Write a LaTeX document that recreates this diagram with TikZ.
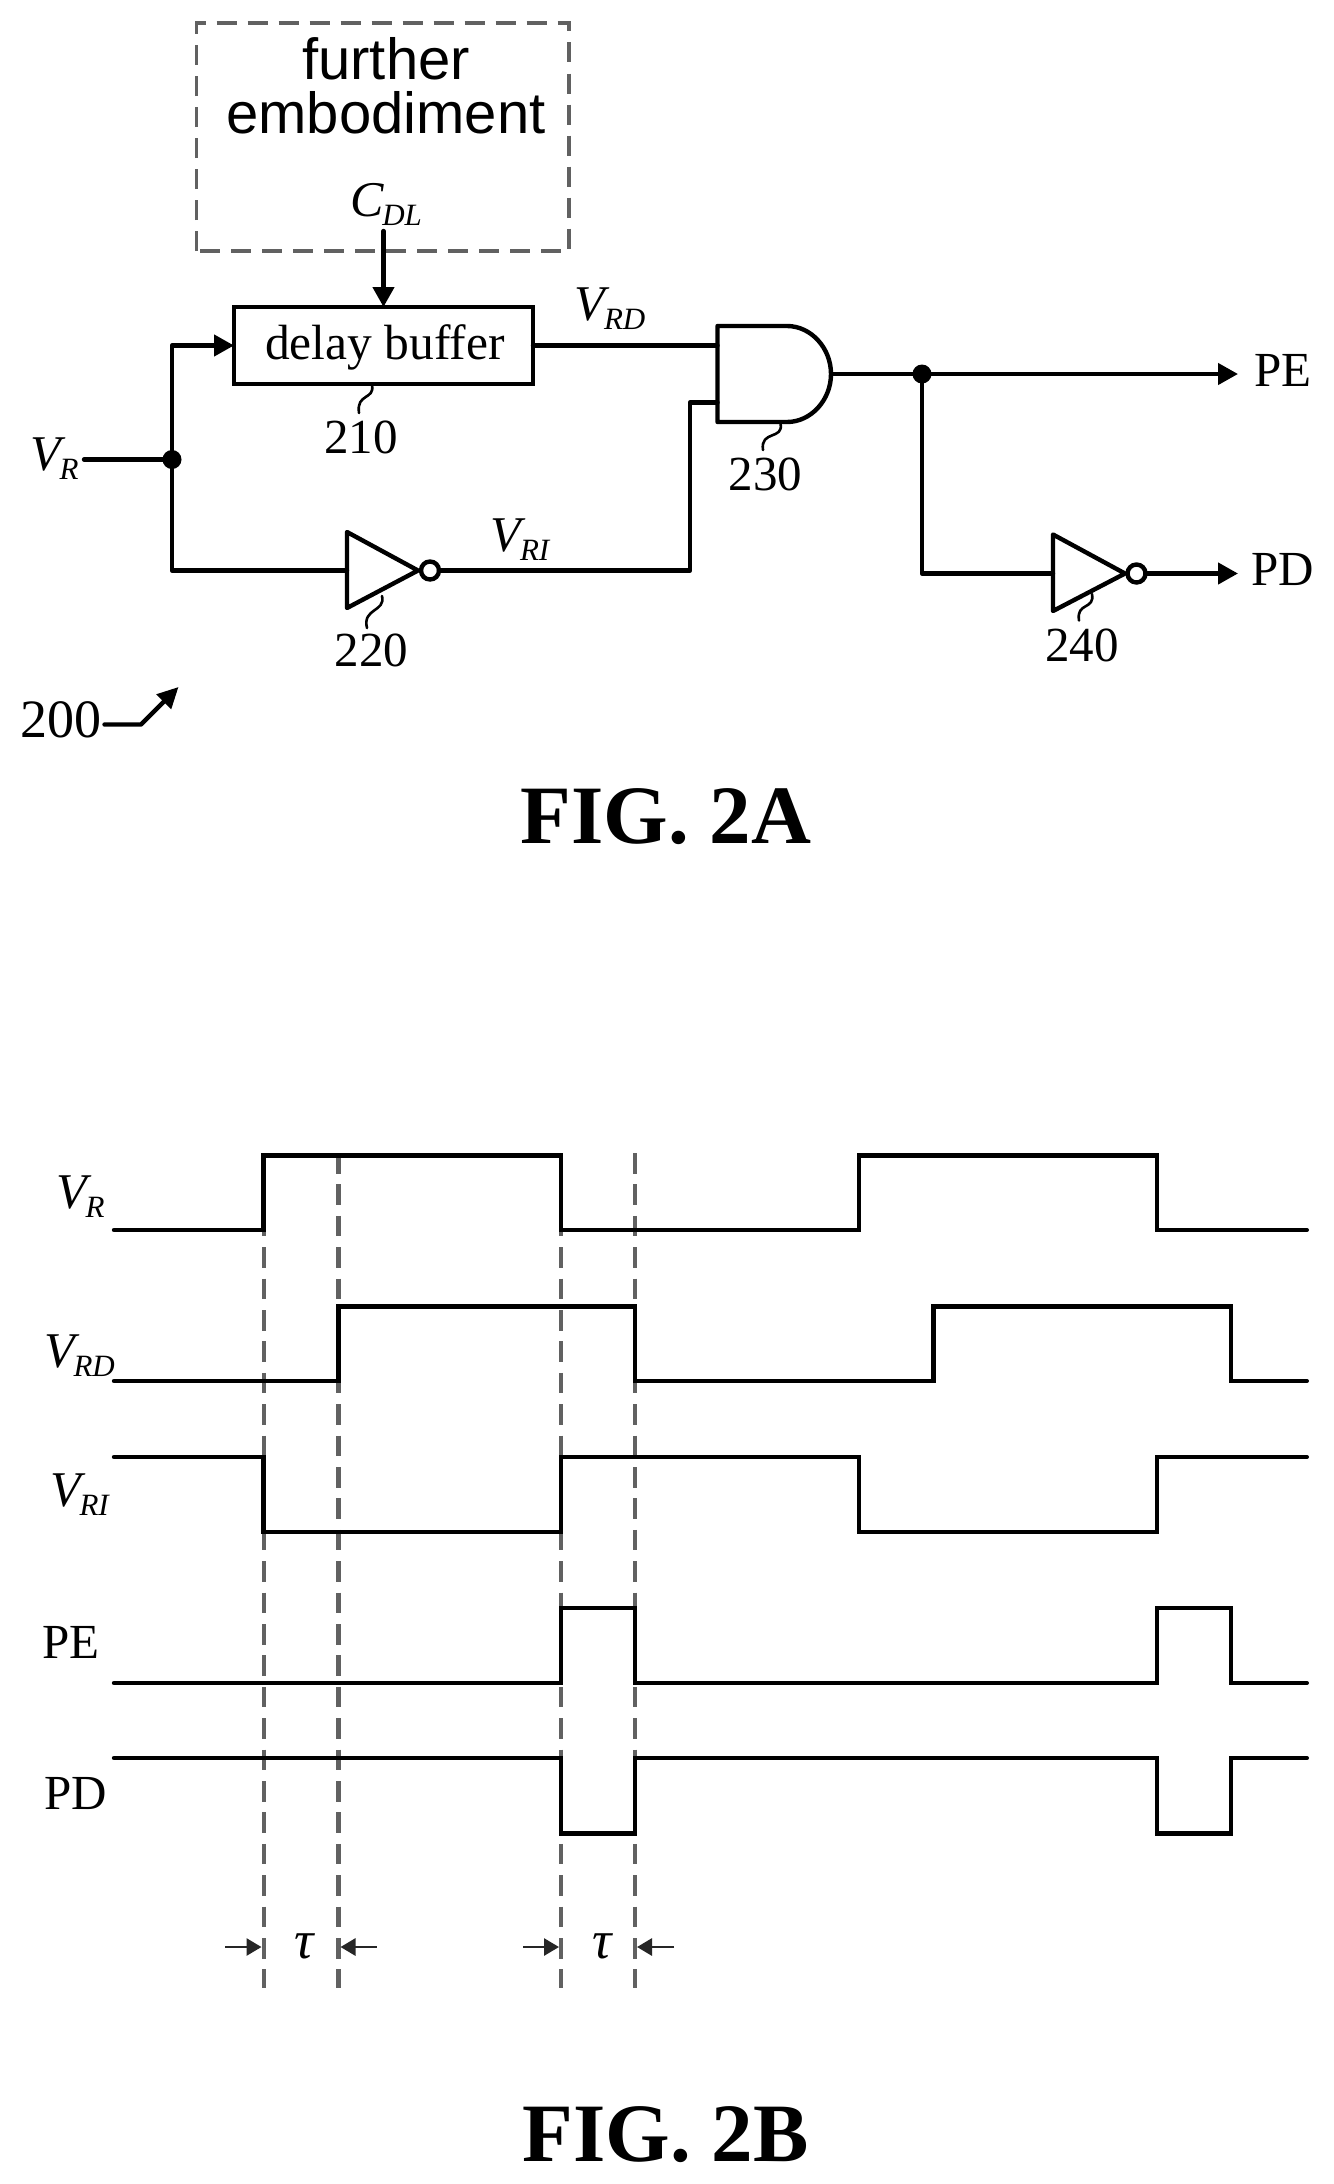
\documentclass[tikz,border=0pt]{standalone}
\usepackage{fontspec}
\setmainfont{Liberation Serif}
\newfontfamily\boxsans{Liberation Sans}
\usetikzlibrary{arrows.meta}
\newcommand\fsz[1]{\fontsize{#1}{#1}\selectfont}
\newcommand\subt[1]{\raisebox{-9pt}{\fsz{31}\textit{#1}}}
\newcommand\sig[2]{\fsz{50}{\itshape #1}\hspace{-1pt}\subt{#2}}
\tikzset{
  wire/.style={line width=4.4pt,line cap=round,line join=round},
  sigline/.style={line width=4.4pt,line join=miter,line cap=round},
  guide/.style={line width=4.2pt,black!62,dash pattern=on 20.5pt off 10.9pt},
  outbox/.style={line width=3.8pt,black!62,dash pattern=on 20pt off 11pt},
  arr/.style={wire,-{Triangle[length=20pt,width=21pt]}},
  tauarr/.style={line width=2.8pt,black!85,-{Triangle[length=15pt,width=17pt]},line cap=butt},
  lead/.style={line width=2.6pt,line cap=round},
  txt/.style={anchor=base west,inner sep=0pt,outer sep=0pt},
  ctxt/.style={anchor=base,inner sep=0pt,outer sep=0pt},
  dot/.style={circle,fill=black,inner sep=0pt,minimum size=19pt,outer sep=0pt},
  bubble/.style={circle,draw,line width=4.4pt,fill=white,inner sep=0pt,minimum size=18pt,outer sep=0pt},
  num/.style={ctxt,font=\fsz{49}},
  lab/.style={txt,font=\fsz{49}},
  figl/.style={ctxt,font=\fsz{83}\bfseries},
  taul/.style={ctxt,font=\fsz{54}\itshape},
}
\begin{document}
\begin{tikzpicture}[x=1pt,y=-1pt]
\path[fill=white,use as bounding box] (0,0) rectangle (1333,2184);
% ---------- FIG 2A ----------
\draw[outbox] (196.5,251) -- (196.5,23) -- (569,23) -- (569,251) -- cycle;
\node[ctxt,font=\boxsans\fsz{58}] (further) at (386,80) {further};
\node[ctxt,font=\boxsans\fsz{58}] (embod) at (386,133) {embodiment};
\node[txt] (cdl) at (350,216) {\fsz{50}{\itshape C}\hspace{-1pt}\subt{DL}};
\node[draw,line width=4.4pt,inner sep=0pt,outer sep=0pt,minimum width=299pt,text height=52pt,text depth=25pt,font=\fsz{49.5}] (delay) at (383.5,345.5) {\hspace*{3pt}delay buffer};
\coordinate (cdlstart) at (383.5,231);
\draw[arr] (cdlstart) -- (delay.north);
\node[txt] (vr) at (30,470) {\sig{V}{R}};
\coordinate (vrstart) at (84,459.5);
\node[dot] (jr) at (172,459.5) {};
\draw[wire] (vrstart) -- (jr);
\draw[arr] (jr.center) |- (delay.west);
% inverter 220
\coordinate (i1in) at (347,570.5);
\coordinate (i1tip) at (418,570.5);
\draw[wire] (347,532) -- (i1tip) -- (347,608) -- cycle;
\node[bubble] (i1out) at (430,570.5) {};
\draw[wire] (jr.center) |- (i1in);
% AND 230
\coordinate (a1) at (717.5,345.5);
\coordinate (a2) at (717.5,402.5);
\coordinate (aout) at (831,374);
\draw[wire,fill=white] (717.5,326) -- (787,326) .. controls (811,326) and (831,348) .. (aout)
   .. controls (831,400) and (811,422) .. (787,422) -- (717.5,422) -- cycle;
\draw[wire] (delay.east) -- (a1);
\coordinate (vbend) at (690,570.5);
\draw[wire] (i1out.east) -- (vbend) |- (a2);
\node[txt] (vrd) at (574.5,320) {\sig{V}{RD}};
\node[txt] (vri) at (490.5,551) {\sig{V}{RI}};
% outputs
\node[dot] (jo) at (922,374) {};
\coordinate (peend) at (1238,374);
\coordinate (pdend) at (1238,573.5);
\draw[wire] (aout) -- (jo);
\draw[arr] (jo.center) -- (peend);
\node[lab] (pe) at (1254.5,386) {PE};
\node[lab] (pd) at (1251,585) {PD};
\coordinate (i2in) at (1053,573.5);
\coordinate (i2tip) at (1125,573.5);
\draw[wire] (1053,534.5) -- (i2tip) -- (1053,611) -- cycle;
\node[bubble] (i2out) at (1136.5,573.5) {};
\draw[wire] (jo.center) |- (i2in);
\draw[arr] (i2out.east) -- (pdend);
% reference numerals
\node[num] (n210) at (361,453) {210};
\node[num] (n220) at (371.5,666.5) {220};
\node[num] (n230) at (765.5,490.5) {230};
\node[num] (n240) at (1082,661.5) {240};
\draw[lead] (372,385) .. controls (375,400) and (356,393) .. (359,413);
\draw[lead] (382,596) .. controls (386,612) and (362,608) .. (367,628);
\draw[lead] (780.5,423.5) .. controls (784,440) and (760,430) .. (763,450);
\draw[lead] (1092,594) .. controls (1095,610) and (1076,602) .. (1079,620.5);
\node[txt,font=\fsz{54}] (n200) at (20,737) {200};
\coordinate (l200a) at (104.5,724.5);
\coordinate (l200b) at (141,724.5);
\coordinate (l200c) at (178.5,687);
\draw[wire,-{Triangle[length=21pt,width=20pt]}] (l200a) -- (l200b) -- (l200c);
\node[figl] (fa) at (666,843) {FIG. 2A};
% ---------- FIG 2B ----------
\foreach \x in {263.6,338.4,561,635} \draw[guide] (\x,1153) -- (\x,1988);
\draw[sigline] (114,1230) -- (263.4,1230) -- (263.4,1155.6) -- (561,1155.6) -- (561,1230) -- (858.7,1230) -- (858.7,1155.6) -- (1157,1155.6) -- (1157,1230) -- (1306.8,1230);
\draw[sigline] (114,1381) -- (338.4,1381) -- (338.4,1306.6) -- (635,1306.6) -- (635,1381) -- (933.3,1381) -- (933.3,1306.6) -- (1231,1306.6) -- (1231,1381) -- (1306.8,1381);
\draw[sigline] (114,1457) -- (263.4,1457) -- (263.4,1532) -- (561,1532) -- (561,1457) -- (858.7,1457) -- (858.7,1532) -- (1157,1532) -- (1157,1457) -- (1306.8,1457);
\draw[sigline] (114,1683) -- (561,1683) -- (561,1608) -- (635,1608) -- (635,1683) -- (1157,1683) -- (1157,1608) -- (1231,1608) -- (1231,1683) -- (1306.8,1683);
\draw[sigline] (114,1758) -- (561,1758) -- (561,1833.5) -- (635,1833.5) -- (635,1758) -- (1157,1758) -- (1157,1833.5) -- (1231,1833.5) -- (1231,1758) -- (1306.8,1758);
\node[txt] (lvr) at (56,1208) {\sig{V}{R}};
\node[txt] (lvrd) at (44,1367) {\sig{V}{RD}};
\node[txt] (lvri) at (50,1506) {\sig{V}{RI}};
\node[lab] (lpe) at (42,1658) {PE};
\node[lab] (lpd) at (44,1809) {PD};
\coordinate (t1) at (261.5,1947); \coordinate (t2) at (340.5,1947);
\coordinate (t3) at (559,1947); \coordinate (t4) at (637,1947);
\coordinate (s1) at (225,1947); \coordinate (s2) at (376.5,1947);
\coordinate (s3) at (523,1947); \coordinate (s4) at (674,1947);
\draw[tauarr] (s1) -- (t1);
\draw[tauarr] (s2) -- (t2);
\draw[tauarr] (s3) -- (t3);
\draw[tauarr] (s4) -- (t4);
\node[taul] (tau1) at (304,1958) {τ};
\node[taul] (tau2) at (602,1958) {τ};
\node[figl] (fb) at (665.5,2161) {FIG. 2B};
\end{tikzpicture}
\end{document}
